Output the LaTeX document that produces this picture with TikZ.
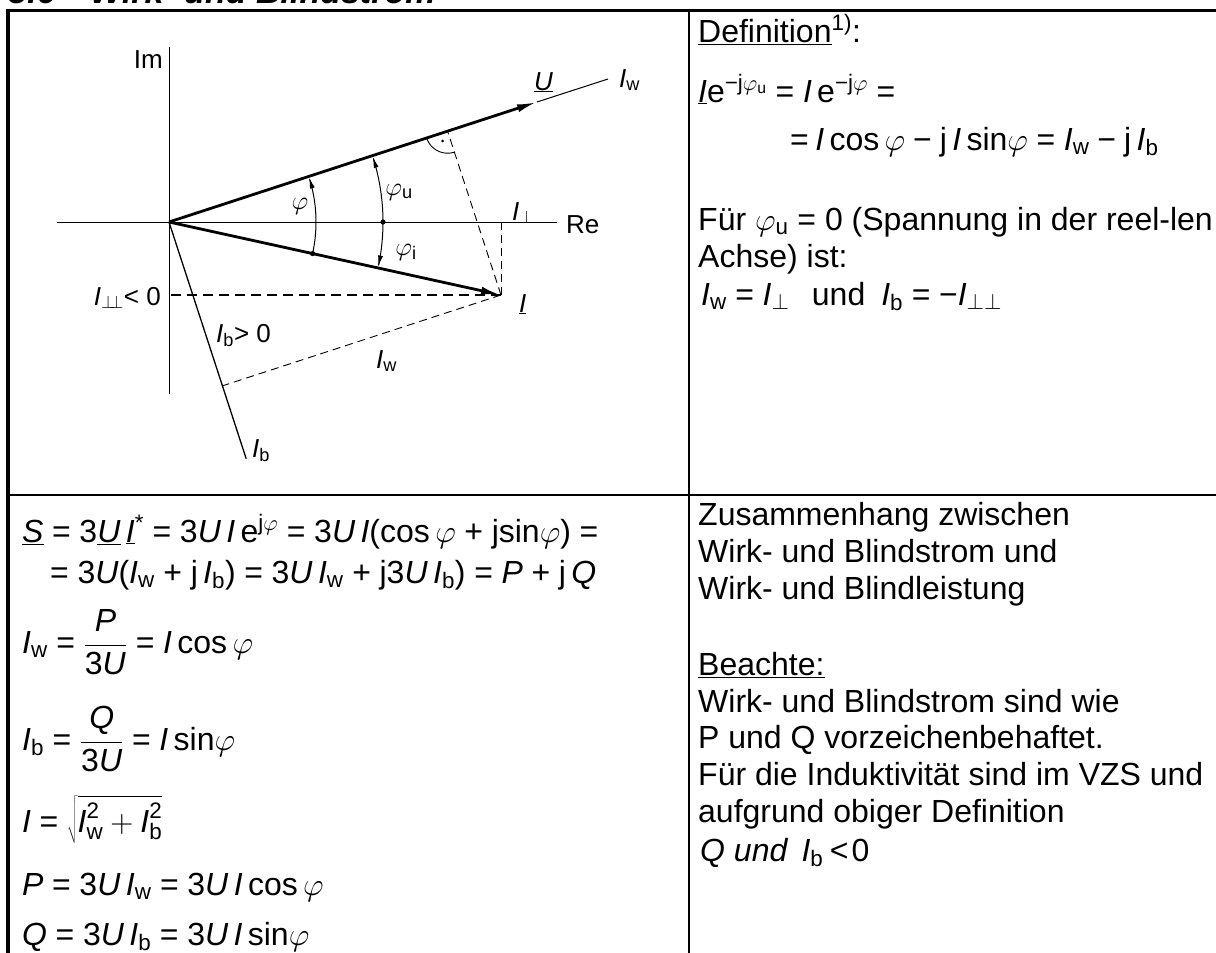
\RequirePackage{fix-cm}
\documentclass[tikz,border=0pt]{standalone}
\usepackage{fontspec}
\setmainfont{Liberation Sans}
\setmathrm{Liberation Sans}
\usetikzlibrary{arrows.meta,calc}
\newcommand{\vI}{\textit{I}}
\newcommand{\vU}{\textit{U}}
\newcommand{\ph}{$\varphi$}
\newcommand{\eq}{\hspace{0.27em}=\hspace{0.27em}}
\newcommand{\pl}{\hspace{0.27em}+\hspace{0.27em}}
\newcommand{\mi}{\hspace{0.25em}−\hspace{0.25em}}
\begin{document}
\begin{tikzpicture}[x=1pt,y=-1pt,
  txt/.style={anchor=base west, inner sep=0pt, font=\fontsize{32}{36.8}\selectfont},
  lbl/.style={inner sep=0pt, font=\fontsize{26}{30}\selectfont},
  axisline/.style={line width=1pt},
  vec/.style={line width=2.8pt, -{Latex[length=20pt,width=8pt]}},
  thindash/.style={line width=0.9pt, dash pattern=on 8pt off 5pt},
  thickdash/.style={line width=1.7pt, dash pattern=on 10pt off 6pt},
  anglearc/.style={line width=1pt, -{Latex[length=11pt,width=5pt]}},
  frameline/.style={line width=3.6pt},
  sepline/.style={line width=2pt}]
\useasboundingbox (0,0) rectangle (1216,953);
\clip (0,0) rectangle (1216,953);

% title (mostly cut off at the top edge)
\node[anchor=base west, inner sep=0pt, font=\bfseries\itshape\fontsize{34}{40}\selectfont] (t1) at (8,3) {5.6};
\node[anchor=base west, inner sep=0pt, font=\bfseries\itshape\fontsize{34}{40}\selectfont] (t2) at (90,3) {Wirk- und Blindstrom};

% table frame
\coordinate (TL) at (8,10.5); \coordinate (TR) at (1225,10.5); \coordinate (BL) at (8,965);
\coordinate (CT) at (689,10.5); \coordinate (CB) at (689,965);
\coordinate (ML) at (8,495); \coordinate (MR) at (1225,495);
\draw[frameline] (BL) -- (TL) -- (TR);
\draw[sepline] (CT) -- (CB);
\draw[sepline] (ML) -- (MR);

% phasor diagram
\coordinate (O) at (169,222);
\coordinate (ImTop) at (169,47); \coordinate (ImBot) at (169,394);
\coordinate (ReL) at (57,222); \coordinate (ReR) at (557,222);
\coordinate (Utip) at (537,102); \coordinate (Uend) at (608,79);
\coordinate (Itip) at (501,295);
\coordinate (Ibend) at (246.2,458.7);
\coordinate (F) at ($(O)!(Itip)!(Utip)$);
\coordinate (G) at ($(O)!(Itip)!(Ibend)$);
\coordinate (Ire) at (Itip |- O);
\coordinate (Iim) at (O |- Itip);
\coordinate (D1) at (383,222);
\coordinate (D2) at (312.6,253.6);
\coordinate (D3) at (442.6,141.0);

\draw[axisline] (ImTop) -- (ImBot);
\draw[axisline] (ReL) -- (ReR);
\draw[line width=1pt] (Utip) -- (Uend);
\draw[vec] (O) -- (Utip);
\draw[vec] (O) -- (Itip);
\draw[line width=1.3pt] (O) -- (Ibend);
\draw[thindash] (Itip) -- (Ire);
\draw[thindash] (Itip) -- (F);
\draw[thindash] (Itip) -- (G);
\draw[thickdash] (Itip) -- (Iim);

% angle arcs
\draw[anglearc] plot[domain=-12.4:17.6, samples=40] ({169+147*cos(\x)}, {222-147*sin(\x)});
\draw[anglearc] plot[domain=0:17.7, samples=40] ({169+214*cos(\x)}, {222-214*sin(\x)});
\draw[anglearc] plot[domain=0:-12.0, samples=40] ({169+214*cos(\x)}, {222-214*sin(\x)});
\fill (D1) circle[radius=2.6pt];
\fill (D2) circle[radius=2.6pt];
% right angle mark
\draw[line width=0.9pt] plot[domain=198.06:288.06, samples=30] ({447.6+22*cos(\x)}, {131.2-22*sin(\x)});
\fill (D3) circle[radius=1.4pt];

% diagram labels
\node[lbl, anchor=base east] (im) at (163,68) {Im};
\node[lbl, anchor=base west] (re) at (566,233) {Re};
\node[lbl, anchor=base west] (ulbl) at (534,90) {\underline{\vU}};
\node[lbl, anchor=base west] (iwtop) at (619,87) {\vI\textsubscript{w}};
\node[lbl] (phi) at (300,206) {\ph};
\node[lbl] (phiu) at (399,192) {\ph\textsubscript{u}};
\node[lbl, anchor=base west] (iperp) at (512,220) {\vI\textsubscript{$\perp$}};
\node[lbl] (phii) at (406,252) {\ph\textsubscript{i}};
\node[lbl, anchor=base west] (ilbl) at (519,312) {\underline{\vI}};
\node[lbl, anchor=base east] (iperpp) at (161,305) {\vI\textsubscript{$\perp\!\!\perp$}< 0};
\node[lbl, anchor=base west] (ibgt) at (216,342) {\vI\textsubscript{b}> 0};
\node[lbl, anchor=base west] (iwd) at (376,368) {\vI\textsubscript{w}};
\node[lbl, anchor=base west] (ibbot) at (252,457) {\vI\textsubscript{b}};

% right column, top
\node[txt] (r1) at (698,42) {\underline{Definition}\textsuperscript{1)}:};
\node[txt] (r2) at (698,102) {\underline{\vI}e\textsuperscript{−j\ph\textsubscript{u}}\eq\vI\,e\textsuperscript{−j\ph}\eq};
\node[txt] (r3) at (790,150) {=\hspace{0.2em}\vI\,cos\,\ph\mi j\,\vI\,sin\ph\eq\vI\textsubscript{w}\mi j\,\vI\textsubscript{b}};
\node[txt] (r4) at (698,230) {Für \ph\textsubscript{u} = 0 (Spannung in der reel-len};
\node[txt] (r5) at (698,267) {Achse) ist:};
\node[txt] (r6) at (701,305) {\vI\textsubscript{w}\eq\vI\textsubscript{$\perp$}\hspace{0.7em}und\hspace{0.5em}\vI\textsubscript{b}\eq−\vI\textsubscript{$\perp\perp$}};

% right column, bottom
\node[txt] (b1) at (698,525) {Zusammenhang zwischen};
\node[txt] (b2) at (698,562) {Wirk- und Blindstrom und};
\node[txt] (b3) at (698,599) {Wirk- und Blindleistung};
\node[txt] (b4) at (698,675) {\underline{Beachte:}};
\node[txt] (b5) at (698,712) {Wirk- und Blindstrom sind wie};
\node[txt] (b6) at (698,748) {P und Q vorzeichenbehaftet.};
\node[txt] (b7) at (698,785) {Für die Induktivität sind im VZS und};
\node[txt] (b8) at (698,822) {aufgrund obiger Definition};
\node[txt] (b9) at (700,861) {\textit{Q und \,I}\textsubscript{b}\hspace{0.2em}<\hspace{0.1em}0};

% left column, bottom: formulas
\node[txt] (l1) at (22,542) {\underline{\textit{S}}\eq3\underline{\vU}\,\underline{\vI}\textsuperscript{*}\eq3\vU\,\vI\,e\textsuperscript{j\ph}\eq3\vU\,\vI(cos\,\ph\pl jsin\ph)\eq};
\node[txt] (l2) at (50,583) {=\hspace{0.27em}3\vU(\vI\textsubscript{w}\pl j\,\vI\textsubscript{b})\eq3\vU\,\vI\textsubscript{w}\pl j3\vU\,\vI\textsubscript{b})\eq\textit{P}\pl j\,\textit{Q}};
\node[txt] (l3) at (22,653) {\vI\textsubscript{w}\eq$\displaystyle\frac{\mbox{\textit{P}}}{\mbox{3\vU}}$\eq\vI\,cos\,\ph};
\node[txt] (l4) at (22,750) {\vI\textsubscript{b}\eq$\displaystyle\frac{\mbox{\textit{Q}}}{\mbox{3\vU}}$\eq\vI\,sin\ph};
\node[txt] (l5) at (22,832) {\vI\eq$\displaystyle\sqrt{\rule[-10pt]{0pt}{40pt}\mbox{\vI}^{\mathrm{2}}_{\mathrm{w}}+\mbox{\vI}^{\mathrm{2}}_{\mathrm{b}}}$};
\node[txt] (l6) at (22,895) {\textit{P}\eq3\vU\,\vI\textsubscript{w}\eq3\vU\,\vI\,cos\,\ph};
\node[txt] (l7) at (22,945) {\textit{Q}\eq3\vU\,\vI\textsubscript{b}\eq3\vU\,\vI\,sin\ph};
\end{tikzpicture}
\end{document}
